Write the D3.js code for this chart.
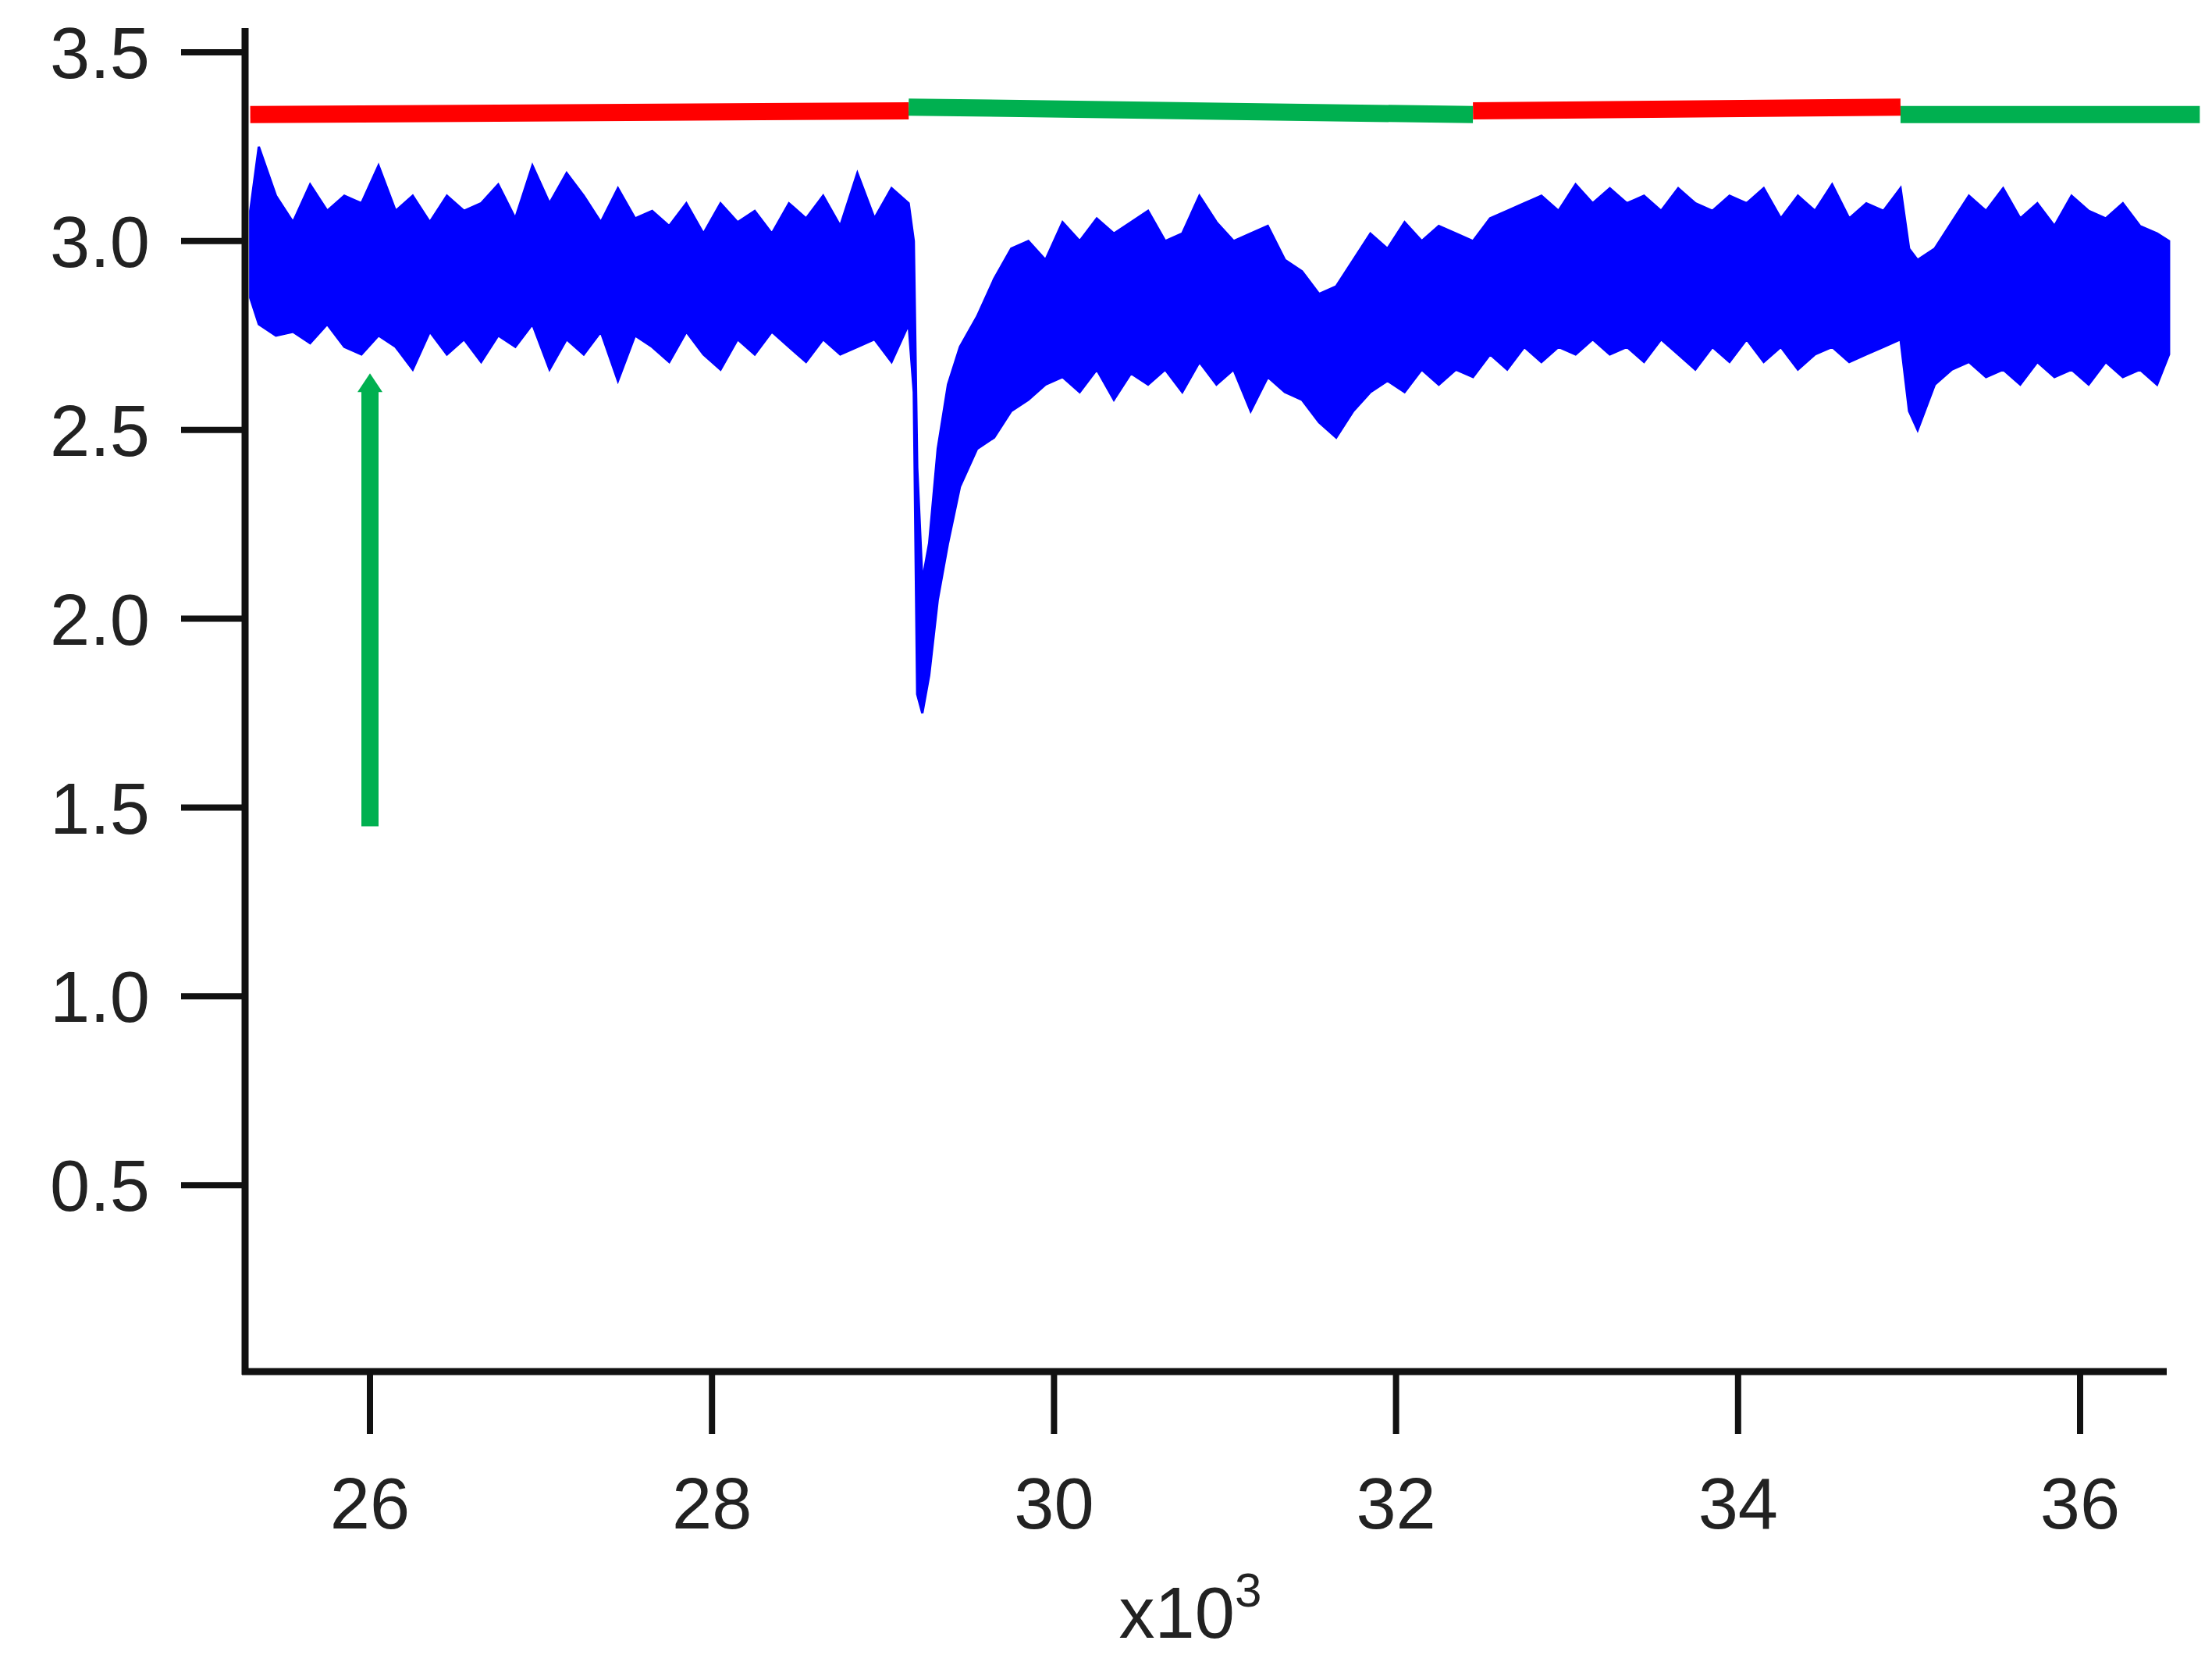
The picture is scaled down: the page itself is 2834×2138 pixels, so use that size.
<!DOCTYPE html>
<html>
<head>
<meta charset="utf-8">
<script src="https://cdn.jsdelivr.net/npm/d3@7"></script>
<style>
  body { margin: 0; background: #fff; }
  text { font-family: "Liberation Sans", Arial, sans-serif; }
</style>
</head>
<body>
<div id="vis"></div>
<script>
// envelope of the noisy trace (x in thousands)
var traceX = [25.30,25.35,25.45,25.55,25.65,25.75,25.85,25.95,26.05,26.15,26.25,26.35,26.45,26.55,26.65,26.75,26.85,26.95,27.05,27.15,27.25,27.35,27.45,27.55,27.65,27.75,27.85,27.95,28.05,28.15,28.25,28.35,28.45,28.55,28.65,28.75,28.85,28.95,29.05,29.15,29.18,29.20,29.23,29.27,29.32,29.38,29.45,29.55,29.65,29.75,29.85,29.95,30.05,30.15,30.25,30.35,30.45,30.55,30.65,30.75,30.85,30.95,31.05,31.15,31.25,31.35,31.45,31.55,31.65,31.75,31.85,31.95,32.05,32.15,32.25,32.35,32.45,32.55,32.65,32.75,32.85,32.95,33.05,33.15,33.25,33.35,33.45,33.55,33.65,33.75,33.85,33.95,34.05,34.15,34.25,34.35,34.45,34.55,34.65,34.75,34.85,34.95,35.00,35.05,35.15,35.25,35.35,35.45,35.55,35.65,35.75,35.85,35.95,36.05,36.15,36.25,36.35,36.45,36.52];
var traceLo = [2.85,2.78,2.75,2.76,2.73,2.78,2.72,2.70,2.75,2.72,2.66,2.76,2.70,2.74,2.68,2.75,2.72,2.78,2.66,2.74,2.70,2.76,2.63,2.75,2.72,2.68,2.76,2.70,2.66,2.74,2.70,2.76,2.72,2.68,2.74,2.70,2.72,2.74,2.68,2.78,2.60,1.80,1.75,1.85,2.05,2.20,2.35,2.45,2.48,2.55,2.58,2.62,2.64,2.60,2.66,2.58,2.65,2.62,2.66,2.60,2.68,2.62,2.66,2.55,2.64,2.60,2.58,2.52,2.48,2.55,2.60,2.63,2.60,2.66,2.62,2.66,2.64,2.70,2.66,2.72,2.68,2.72,2.70,2.74,2.70,2.72,2.68,2.74,2.70,2.66,2.72,2.68,2.74,2.68,2.72,2.66,2.70,2.72,2.68,2.70,2.72,2.74,2.55,2.50,2.62,2.66,2.68,2.64,2.66,2.62,2.68,2.64,2.66,2.62,2.68,2.64,2.66,2.62,2.70];
var traceHi = [3.08,3.25,3.12,3.05,3.15,3.08,3.12,3.10,3.20,3.08,3.12,3.05,3.12,3.08,3.10,3.15,3.06,3.20,3.10,3.18,3.12,3.05,3.14,3.06,3.08,3.04,3.10,3.02,3.10,3.05,3.08,3.02,3.10,3.06,3.12,3.04,3.18,3.06,3.14,3.10,3.00,2.40,2.10,2.20,2.45,2.62,2.72,2.80,2.90,2.98,3.00,2.95,3.05,3.00,3.06,3.02,3.05,3.08,3.00,3.02,3.12,3.05,3.00,3.02,3.04,2.95,2.92,2.86,2.88,2.95,3.02,2.98,3.05,3.00,3.04,3.02,3.00,3.06,3.08,3.10,3.12,3.08,3.15,3.10,3.14,3.10,3.12,3.08,3.14,3.10,3.08,3.12,3.10,3.14,3.06,3.12,3.08,3.15,3.06,3.10,3.08,3.14,2.98,2.95,2.98,3.05,3.12,3.08,3.14,3.06,3.10,3.04,3.12,3.08,3.06,3.10,3.04,3.02,3.00];

// condition bars along the top
var segStart = [25.30, 29.15, 32.45, 34.95];
var segEnd   = [29.15, 32.45, 34.95, 36.70];
var segY0    = [3.335, 3.355, 3.345, 3.335];
var segY1    = [3.345, 3.335, 3.355, 3.335];
var segColor = ["#ff0000", "#00b050", "#ff0000", "#00b050"];

var yTicks = [0.5, 1.0, 1.5, 2.0, 2.5, 3.0, 3.5];
var xTicks = [26, 28, 30, 32, 34, 36];

var arrowX = 26, arrowFrom = 1.45, arrowTo = 2.65;

var width = 2834, height = 2138;
var svg = d3.select('#vis').append('svg')
  .attr('width', width).attr('height', height);

var x = d3.scaleLinear().domain([26, 36]).range([474, 2665]);
var y = d3.scaleLinear().domain([0, 3.5]).range([1760, 67]);

// trace band
var band = traceX.map(function (d, i) { return { x: d, lo: traceLo[i], hi: traceHi[i] }; });
svg.append('path')
  .datum(band)
  .attr('d', d3.area().x(function (d) { return x(d.x); })
    .y0(function (d) { return y(d.lo); })
    .y1(function (d) { return y(d.hi); }))
  .attr('fill', '#0000ff')
  .attr('stroke', '#0000ff')
  .attr('stroke-width', 3);

// top bars
for (var i = 0; i < segStart.length; i++) {
  svg.append('line')
    .attr('x1', x(segStart[i])).attr('x2', x(segEnd[i]))
    .attr('y1', y(segY0[i])).attr('y2', y(segY1[i]))
    .attr('stroke', segColor[i]).attr('stroke-width', 22);
}

// arrow
svg.append('line')
  .attr('x1', x(arrowX)).attr('x2', x(arrowX))
  .attr('y1', y(arrowFrom)).attr('y2', y(arrowTo) + 20)
  .attr('stroke', '#00b050').attr('stroke-width', 22);
svg.append('path')
  .attr('d', 'M' + (x(arrowX) - 16) + ',' + (y(arrowTo) + 24) + 'L' + x(arrowX) + ',' + y(arrowTo) + 'L' + (x(arrowX) + 16) + ',' + (y(arrowTo) + 24) + 'Z')
  .attr('fill', '#00b050');

// axes
var axisX0 = 314, axisY = 1757, axisTop = 36, axisRight = 2776;
svg.append('line').attr('x1', axisX0).attr('x2', axisX0).attr('y1', axisTop).attr('y2', axisY + 4)
  .attr('stroke', '#111').attr('stroke-width', 9);
svg.append('line').attr('x1', axisX0 - 4).attr('x2', axisRight).attr('y1', axisY).attr('y2', axisY)
  .attr('stroke', '#111').attr('stroke-width', 9);

yTicks.forEach(function (t) {
  svg.append('line').attr('x1', axisX0 - 82).attr('x2', axisX0).attr('y1', y(t)).attr('y2', y(t))
    .attr('stroke', '#111').attr('stroke-width', 8);
  svg.append('text').attr('x', 192).attr('y', y(t)).attr('dy', '0.36em')
    .attr('text-anchor', 'end').attr('font-size', 92).attr('fill', '#222')
    .text(t.toFixed(1));
});

xTicks.forEach(function (t) {
  svg.append('line').attr('x1', x(t)).attr('x2', x(t)).attr('y1', axisY).attr('y2', axisY + 80)
    .attr('stroke', '#111').attr('stroke-width', 8);
  svg.append('text').attr('x', x(t)).attr('y', 1925)
    .attr('dy', '0.36em').attr('text-anchor', 'middle').attr('font-size', 92).attr('fill', '#222')
    .text(t);
});

var lab = svg.append('text').attr('x', 1525).attr('y', 2098)
  .attr('text-anchor', 'middle').attr('font-size', 92).attr('fill', '#222');
lab.append('tspan').text('x10');
lab.append('tspan').attr('dy', -40).attr('font-size', 62).text('3');
</script>
</body>
</html>
